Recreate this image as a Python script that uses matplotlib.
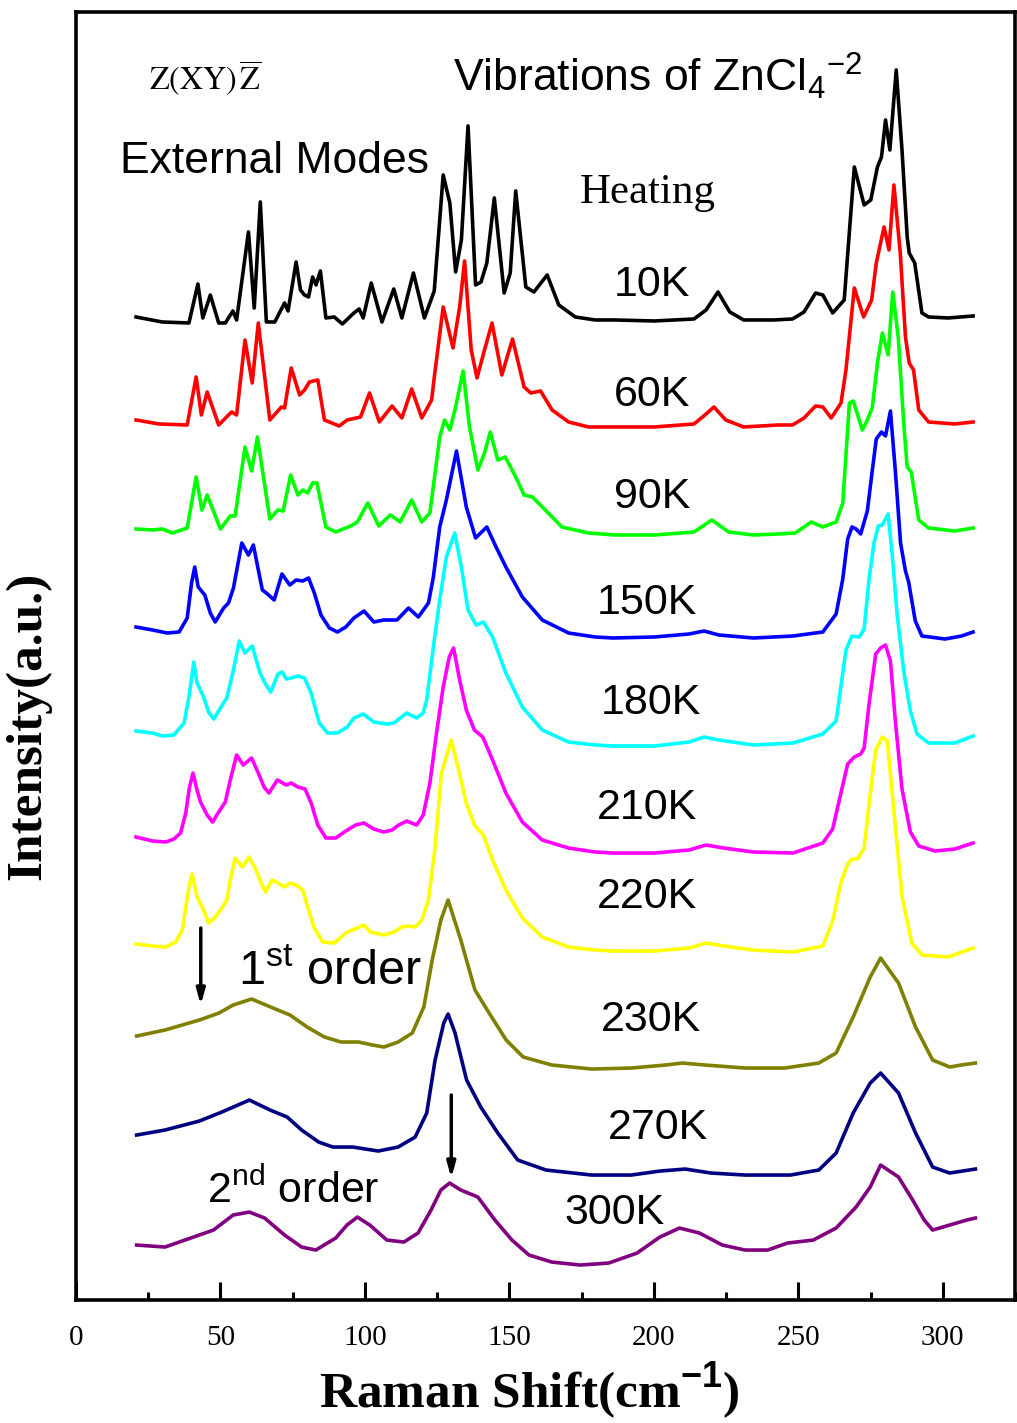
import numpy as np
import matplotlib.pyplot as plt

plt.rcParams["mathtext.fontset"] = "custom"
plt.rcParams["mathtext.rm"] = "Liberation Sans"
plt.rcParams["mathtext.it"] = "Liberation Sans:italic"
plt.rcParams["mathtext.bf"] = "Liberation Sans:bold"

# Raman spectra, (shift cm^-1, intensity a.u. above each trace's own baseline)
spec_10K = [(20.8, 0), (29.8, -5), (39.1, -6), (42.2, 33), (43.9, -1), (46.5, 22), (49.4, -6),
            (51.7, -6), (54.3, 6), (55.6, -3), (59.7, 85), (61.7, 9), (63.8, 115), (65.9, -5),
            (68.8, -5), (72.2, 14), (73.4, 6), (76.2, 55), (77.7, 27), (79.1, 22), (80.5, 20),
            (81.9, 40), (83.1, 32), (84.6, 46), (86.5, -1), (89.4, 0), (92.2, -7), (96.2, 4),
            (98.0, 8), (99.4, -1), (102.2, 34), (105.9, -5), (110.0, 28), (112.8, -1), (116.8, 44),
            (120.6, -1), (124.0, 26), (127.1, 142), (129.4, 114), (131.4, 45), (133.4, 77),
            (135.7, 191), (138.3, 32), (140.2, 35), (142.2, 54), (144.8, 119), (148.2, 24),
            (150.3, 44), (152.2, 126), (155.7, 30), (158.5, 25), (163.1, 42), (167.1, 12),
            (172.8, 0), (179.7, -3), (186.5, -3), (200.2, -4), (213.9, -2), (218.1, 7), (222.2, 25),
            (226.3, 5), (231.1, -3), (241.4, -3), (248.0, -2), (252.0, 5), (256.0, 24),
            (258.5, 22), (261.9, 4), (265.9, 17), (269.4, 150), (272.8, 112), (275.1, 117),
            (277.4, 150), (278.8, 160), (280.2, 197), (281.7, 167), (283.9, 247), (285.9, 167),
            (287.7, 80), (288.4, 64), (290.3, 54), (292.8, 4), (295.1, 0), (301.9, -1), (310.5, 1)]

spec_60K = [(20.8, 0), (28.8, -4), (38.5, -5), (41.6, 43), (43.4, 5), (45.4, 28), (49.4, -5),
            (52.8, 5), (53.9, 8), (55.6, 5), (58.5, 80), (61.0, 37), (63.1, 97), (67.1, 0),
            (71.1, 13), (72.2, 12), (74.5, 52), (77.4, 25), (79.1, 30), (80.8, 38), (83.7, 40),
            (86.0, 0), (91.1, -6), (93.9, 0), (98.5, 3), (101.6, 27), (105.0, -2), (109.4, 14),
            (112.8, 2), (116.2, 31), (119.7, 2), (123.1, 20), (124.2, 47), (127.1, 113),
            (130.5, 72), (132.8, 113), (134.5, 159), (136.8, 70), (138.8, 42), (141.4, 70),
            (144.0, 97), (147.4, 45), (151.1, 81), (155.1, 33), (157.4, 27), (160.8, 29),
            (164.8, 10), (170.5, -2), (177.4, -7), (186.5, -7), (200.2, -7), (213.9, -4),
            (217.7, 5), (220.8, 13), (224.9, 0), (231.1, -7), (243.1, -5), (248.0, -5),
            (252.0, 2), (256.0, 14), (258.5, 13), (261.4, 2), (264.8, 17), (266.5, 50), (269.4, 132),
            (272.6, 103), (275.4, 120), (277.0, 157), (279.7, 193), (281.4, 170), (283.1, 235),
            (285.3, 167), (287.1, 83), (288.4, 57), (289.9, 50), (291.7, 10), (295.1, -2),
            (304.2, -4), (310.5, -2)]

spec_90K = [(20.8, 0), (26.5, -1), (29.9, 0), (33.4, -4), (38.5, 1), (41.6, 52), (43.6, 19),
            (45.4, 34), (50.0, 0), (53.4, 13), (55.1, 13), (58.5, 82), (60.8, 58), (62.8, 92),
            (67.1, 10), (69.9, 19), (71.7, 18), (74.3, 54), (76.8, 34), (78.5, 39), (80.2, 36),
            (81.9, 46), (83.4, 46), (86.5, 2), (89.9, -3), (95.1, 3), (97.4, 7), (101.0, 26),
            (104.8, 3), (108.8, 14), (112.2, 7), (116.2, 29), (119.7, 7), (122.5, 16),
            (125.9, 92), (127.6, 109), (129.4, 99), (131.4, 122), (134.0, 158), (136.2, 102),
            (139.1, 59), (141.4, 76), (143.4, 97), (146.0, 69), (148.6, 72), (152.2, 52),
            (155.1, 34), (158.0, 32), (161.4, 22), (168.2, 2), (177.4, -4), (186.5, -6),
            (200.2, -6), (213.9, -3), (220.1, 9), (225.9, -3), (234.5, -6), (243.1, -5),
            (249.0, -4), (254.5, 7), (258.5, 2), (263.1, 7), (265.4, 26), (267.7, 126),
            (269.0, 128), (272.2, 99), (273.9, 109), (275.6, 121), (277.4, 166), (279.1, 196),
            (281.1, 174), (282.7, 237), (284.6, 192), (286.5, 106), (287.7, 62), (289.1, 57),
            (291.7, 9), (295.1, 1), (304.2, -2), (310.5, 1)]

spec_150K = [(20.8, 0), (26.5, -3), (31.6, -6), (35.7, -5), (38.5, 9), (40.0, 44), (41.1, 60),
             (42.3, 40), (44.6, 32), (46.5, 14), (48.2, 5), (51.1, 19), (52.8, 24), (54.5, 39),
             (57.4, 84), (59.7, 72), (61.4, 82), (64.5, 37), (65.9, 34), (68.6, 27), (71.3, 53),
             (74.0, 42), (76.2, 47), (78.5, 46), (80.5, 49), (82.5, 34), (84.8, 12), (87.7, -1),
             (90.5, -5), (93.4, 0), (96.2, 9), (99.7, 16), (103.1, 5), (106.5, 7), (111.1, 7),
             (115.1, 19), (118.5, 10), (122.0, 24), (123.7, 50), (125.9, 100), (128.2, 127),
             (131.7, 176), (135.1, 120), (138.3, 89), (142.2, 100), (145.4, 80), (148.8, 60),
             (154.5, 30), (161.4, 7), (170.5, -6), (179.7, -10), (185.9, -11), (200.2, -10),
             (212.2, -7), (217.4, -4), (222.5, -8), (234.5, -11), (248.2, -9), (258.5, -5),
             (263.1, 13), (265.4, 48), (267.1, 88), (268.6, 100), (270.0, 98), (271.6, 93),
             (273.9, 116), (275.6, 156), (277.0, 188), (278.8, 195), (280.2, 191), (281.9, 216),
             (283.6, 156), (285.4, 84), (287.1, 56), (288.2, 45), (290.5, 6), (292.8, -9),
             (300.8, -12), (306.5, -9), (310.5, -5)]

spec_180K = [(20.8, 0), (26.5, -2), (29.9, -5), (33.9, -4), (37.4, 8), (39.1, 34), (40.8, 69),
             (41.9, 48), (44.2, 34), (45.9, 19), (47.7, 12), (50.0, 23), (52.2, 33), (54.5, 61),
             (56.5, 90), (58.5, 78), (61.0, 85), (63.7, 58), (65.4, 48), (67.4, 39), (69.9, 57),
             (71.3, 59), (72.8, 52), (74.5, 53), (76.8, 55), (79.1, 53), (81.4, 38), (84.2, 8),
             (87.1, -2), (90.5, -2), (93.9, 4), (96.2, 13), (99.4, 17), (103.1, 9), (107.7, 7),
             (110.0, 8), (114.5, 18), (117.9, 13), (120.2, 18), (121.4, 31), (123.7, 84),
             (125.9, 131), (128.2, 174), (131.1, 198), (133.4, 164), (135.7, 121), (138.5, 106),
             (141.0, 109), (144.2, 94), (148.8, 58), (154.5, 24), (161.4, 1), (170.5, -11),
             (179.7, -14), (185.9, -15), (200.2, -15), (212.2, -11), (217.4, -6), (222.5, -9),
             (234.5, -14), (248.2, -12), (258.5, -3), (263.1, 10), (266.5, 81), (268.6, 95),
             (271.1, 94), (272.8, 102), (274.5, 152), (276.2, 188), (277.7, 205), (279.1, 206),
             (281.1, 217), (282.5, 177), (284.2, 117), (286.5, 60), (288.8, 20), (291.1, -3),
             (295.1, -12), (304.2, -12), (310.5, -5)]

spec_210K = [(20.8, 0), (26.5, -4), (31.1, -5), (33.9, -2), (36.2, 4), (38.0, 24), (39.3, 50),
             (40.5, 64), (41.9, 47), (43.1, 35), (45.4, 22), (47.3, 15), (49.4, 25), (51.7, 35),
             (53.4, 57), (55.6, 82), (57.9, 72), (60.8, 79), (63.1, 64), (65.1, 50), (66.8, 44),
             (69.7, 57), (72.8, 52), (74.5, 54), (76.8, 50), (79.3, 48), (81.4, 34), (83.7, 12),
             (86.5, -1), (89.9, -1), (93.4, 6), (96.8, 12), (99.7, 14), (103.1, 8), (106.5, 5),
             (109.4, 7), (111.7, 12), (114.5, 16), (117.9, 12), (120.2, 22), (122.5, 54),
             (124.8, 104), (127.1, 150), (129.2, 180), (130.7, 189), (132.8, 157), (135.1, 127),
             (137.9, 107), (140.8, 100), (144.2, 77), (148.8, 44), (154.5, 15), (161.4, -3),
             (170.5, -11), (179.7, -15), (185.9, -16), (200.2, -16), (212.2, -13), (218.1, -8),
             (224.2, -11), (234.5, -15), (248.2, -16), (258.5, -6), (261.9, 8), (264.2, 37),
             (267.1, 73), (269.4, 80), (271.6, 83), (272.8, 89), (274.5, 133), (276.8, 183),
             (278.5, 189), (280.2, 192), (281.9, 176), (283.6, 116), (285.9, 48), (288.8, 5),
             (291.7, -9), (297.4, -14), (304.2, -12), (310.5, -6)]

spec_220K = [(20.8, 0), (26.5, -2), (31.1, -3), (34.5, 2), (36.8, 14), (39.1, 57), (40.2, 70),
             (41.9, 47), (44.2, 34), (45.9, 21), (48.2, 27), (50.5, 36), (52.2, 44), (53.4, 64),
             (55.1, 86), (57.6, 77), (59.9, 87), (62.0, 76), (63.7, 64), (65.6, 52), (67.9, 64),
             (69.9, 61), (72.2, 57), (74.0, 61), (76.2, 59), (78.5, 54), (80.2, 37), (82.5, 16),
             (85.4, 2), (89.4, 1), (93.9, 12), (97.4, 16), (99.7, 19), (101.9, 12), (106.5, 9),
             (110.0, 12), (112.8, 17), (115.1, 18), (117.4, 17), (119.7, 24), (122.0, 44),
             (124.2, 94), (126.5, 171), (129.9, 204), (132.2, 177), (135.1, 141), (137.9, 119),
             (141.0, 109), (144.2, 84), (148.8, 54), (154.5, 26), (161.4, 7), (170.5, -3),
             (179.7, -6), (185.9, -7), (200.2, -7), (212.2, -4), (218.1, 1), (224.2, -2),
             (234.5, -6), (248.2, -8), (258.5, -2), (261.9, 23), (264.8, 62), (267.1, 80),
             (268.6, 85), (270.5, 85), (272.8, 96), (274.5, 140), (276.8, 194), (279.1, 207),
             (280.8, 203), (283.1, 133), (285.9, 48), (289.3, 1), (292.8, -11), (301.9, -13),
             (310.5, -4)]

spec_230K = [(21.0, 0), (30.8, 6), (42.7, 16), (49.5, 23), (54.4, 31), (60.8, 37), (68.2, 28),
             (74.1, 21), (80.0, 9), (86.0, -1), (91.8, -6), (97.8, -6), (102.7, -9), (106.6, -11),
             (111.5, -6), (116.4, 3), (120.4, 29), (123.3, 76), (126.3, 116), (128.8, 136),
             (133.2, 96), (138.1, 46), (143.0, 23), (148.9, -4), (154.8, -21), (164.7, -29),
             (178.5, -33), (192.2, -32), (204.0, -29), (209.9, -27), (217.8, -29), (231.6, -32),
             (245.3, -32), (257.1, -27), (263.1, -17), (269.0, 19), (274.9, 59), (278.5, 78),
             (284.7, 53), (290.6, 9), (296.5, -24), (302.4, -31), (306.4, -29), (311.3, -27)]

spec_270K = [(21.0, 0), (30.8, 5), (42.7, 14), (50.5, 23), (60.0, 35), (67.2, 25), (73.1, 18),
             (78.1, 5), (84.0, -7), (88.9, -12), (95.8, -12), (104.6, -16), (111.5, -12),
             (117.4, -2), (121.4, 22), (124.3, 75), (127.3, 112), (128.8, 121), (131.2, 102),
             (135.2, 55), (140.1, 28), (146.0, 2), (152.9, -25), (162.7, -35), (178.5, -40),
             (192.2, -40), (202.1, -36), (210.9, -34), (219.8, -38), (231.6, -40), (247.3, -40),
             (257.1, -35), (263.1, -18), (269.0, 22), (274.9, 52), (278.5, 62), (284.7, 42),
             (290.6, 2), (296.5, -32), (302.4, -38), (311.3, -34)]

spec_300K = [(21.0, 0), (30.8, -2), (40.7, 8), (47.6, 15), (54.4, 30), (60.0, 33), (65.3, 27),
             (72.2, 10), (78.1, -2), (83.0, -5), (89.9, 7), (93.8, 20), (97.4, 28), (101.7, 20),
             (107.6, 5), (113.5, 3), (118.4, 12), (122.9, 35), (126.3, 55), (129.3, 62),
             (133.2, 55), (139.1, 48), (145.0, 25), (150.9, 5), (156.8, -10), (164.7, -17),
             (174.5, -20), (184.4, -18), (194.2, -8), (202.1, 8), (208.9, 17), (215.8, 12),
             (223.7, 0), (231.6, -5), (239.4, -5), (246.3, 2), (255.2, 5), (263.1, 17),
             (270.0, 38), (274.9, 58), (278.5, 80), (284.7, 68), (289.6, 45), (293.6, 25),
             (296.5, 15), (302.4, 20), (308.3, 25), (311.3, 27)]

temps = ["10K", "60K", "90K", "150K", "180K", "210K", "220K", "230K", "270K", "300K"]
spectra = [spec_10K, spec_60K, spec_90K, spec_150K, spec_180K, spec_210K, spec_220K,
           spec_230K, spec_270K, spec_300K]
offsets = [983, 880, 771, 673, 569, 463, 356, 264, 165, 55]
colors = ["black", "#ff0000", "#00ff00", "#0000ff", "#00ffff", "#ff00ff", "#ffff00",
          "#808000", "#000080", "#800080"]

# where each temperature tag sits (shift, a.u.)
label_x = [199.5, 199.5, 199.5, 197.5, 198.9, 197.5, 197.5, 198.9, 201.3, 186.5]
label_y = [1015, 905, 803, 697, 597, 492, 403, 280, 172, 87]

fig = plt.figure(figsize=(10.17, 14.23), dpi=100)
ax = fig.add_axes([0.0747, 0.0864, 0.9233, 0.9052])

for spec, off, col in zip(spectra, offsets, colors):
    s = np.array(spec, dtype=float)
    ax.plot(s[:, 0], s[:, 1] + off, color=col, lw=2.6, solid_joinstyle="round")

for t, lx, ly in zip(temps, label_x, label_y):
    ax.text(lx, ly, t, fontsize=31, family="Liberation Sans", ha="center", va="center")

ax.text(25.4, 1222, r"$\mathrm{Z(XY)}\,\overline{\mathrm{Z}}$", fontsize=23,
        math_fontfamily="stix", va="center")
ax.text(130.6, 1208, r"Vibrations of ZnCl$_4$$^{-2}$", fontsize=32,
        family="Liberation Sans", va="baseline")
ax.text(15.1, 1127, "External Modes", fontsize=32, family="Liberation Sans", va="baseline")
ax.text(174.5, 1097, "Heating", fontsize=31, family="Liberation Serif", va="baseline")
ax.text(56.2, 315, r"1$^{\mathrm{st}}$ order", fontsize=35, family="Liberation Sans",
        va="baseline")
ax.text(45.3, 97, r"2$^{\mathrm{nd}}$ order", fontsize=31, family="Liberation Sans",
        va="baseline")

arrow = dict(arrowstyle="-|>,head_width=0.25,head_length=0.9", lw=2.5, color="black",
             shrinkA=0, shrinkB=0)
ax.annotate("", xy=(43.2, 295), xytext=(43.2, 372), arrowprops=arrow)
ax.annotate("", xy=(129.9, 122), xytext=(129.9, 205), arrowprops=arrow)

ax.set_xlim(0, 322)
ax.set_ylim(0, 1288)
ax.set_xticks(np.arange(0, 301, 50))
ax.set_xticks(np.arange(25, 326, 50), minor=True)
ax.set_yticks([])
ax.tick_params(axis="x", which="major", direction="in", length=13, width=2.2, pad=18,
               labelsize=21)
ax.tick_params(axis="x", which="minor", direction="in", length=6, width=2.2)
for lab in ax.get_xticklabels():
    lab.set_family("Liberation Serif")
for sp in ax.spines.values():
    sp.set_linewidth(2.6)

ax.set_xlabel(r"Raman Shift(cm$^{\mathbf{-1}}$)", fontsize=37, family="Liberation Serif",
              fontweight="bold")
ax.xaxis.set_label_coords(0.483, -0.047)
ax.set_ylabel("Intensity(a.u.)", fontsize=37, family="Liberation Serif", fontweight="bold")
ax.yaxis.set_label_coords(-0.026, 0.446)

fig.savefig("out.png", dpi=100)
